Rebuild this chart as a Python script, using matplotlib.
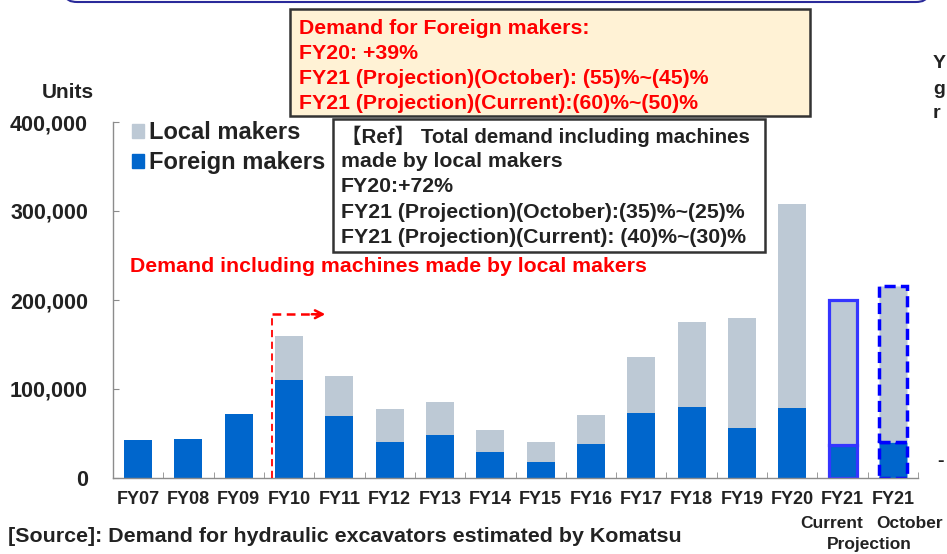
import matplotlib
matplotlib.use("Agg")
import matplotlib.pyplot as plt
from matplotlib.patches import Rectangle, FancyBboxPatch, Patch
import numpy as np

# ---------------- data ----------------
categories = ["FY07", "FY08", "FY09", "FY10", "FY11", "FY12", "FY13", "FY14",
              "FY15", "FY16", "FY17", "FY18", "FY19", "FY20", "FY21", "FY21"]
foreign_makers = [43000, 43500, 72000, 110000, 69500, 41000, 48500, 29000,
                  18500, 38000, 73000, 80000, 56500, 78500, 37000, 40000]
local_makers = [0, 0, 0, 49000, 45000, 36500, 36500, 25000,
                22000, 33000, 63000, 95000, 123000, 229000, 163000, 176000]
yticks = [0, 100000, 200000, 300000, 400000]
ytick_labels = ["0", "100,000", "200,000", "300,000", "400,000"]
arrow_level = 184000

red_box_lines = ["Demand for Foreign makers:",
                 "FY20: +39%",
                 "FY21 (Projection)(October): (55)%~(45)%",
                 "FY21 (Projection)(Current):(60)%~(50)%"]
ref_box_lines = ["【Ref】 Total demand including machines",
                 "made by local makers",
                 "FY20:+72%",
                 "FY21 (Projection)(October):(35)%~(25)%",
                 "FY21 (Projection)(Current): (40)%~(30)%"]

W, H = 947, 554
FONT = ["Liberation Sans", "Noto Sans CJK JP", "DejaVu Sans"]
plt.rcParams["font.family"] = FONT
plt.rcParams["font.weight"] = "bold"

DARK = "#222222"
RED = "#FF0000"
C_FOREIGN = "#0066CC"
C_LOCAL = "#BDC9D5"

fig = plt.figure(figsize=(W / 100, H / 100), dpi=100)
renderer = fig.canvas.get_renderer()


def fx(x):
    return x / W


def fy(y):
    return 1 - y / H


def fit(t, target):
    w = t.get_window_extent(renderer).width
    t.set_fontsize(t.get_fontsize() * target / w)
    return t.get_fontsize()


ax = fig.add_axes([fx(113), fy(478), (918 - 113) / W, (478 - 122) / H])
x = np.arange(len(categories))
bw = 0.557

styles = []
for i in range(len(categories)):
    if i == 14:
        styles.append(dict(edgecolor="#3535FF", linewidth=2.3, linestyle="-"))
    elif i == 15:
        styles.append(dict(edgecolor="#0000FF", linewidth=2.5, linestyle=(0, (3.2, 1.5))))
    else:
        styles.append(dict(edgecolor="none", linewidth=0))

for i in range(len(categories)):
    ax.bar(x[i], foreign_makers[i], width=bw, color=C_FOREIGN, zorder=2, **styles[i])
    if local_makers[i] > 0:
        ax.bar(x[i], local_makers[i], width=bw, bottom=foreign_makers[i],
               color=C_LOCAL, zorder=2, **styles[i])

ax.set_xlim(-0.5, len(categories) - 0.5)
ax.set_ylim(0, 400000)
for s in ["top", "right"]:
    ax.spines[s].set_visible(False)
for s in ["left", "bottom"]:
    ax.spines[s].set_color("#8C8C8C")
    ax.spines[s].set_linewidth(1.0)

ax.set_yticks(yticks)
ax.set_yticklabels(ytick_labels)
ax.tick_params(axis="y", direction="in", length=4, color="#8C8C8C", pad=18,
               labelsize=15.5, labelcolor=DARK)
ax.set_xticks(x)
ax.set_xticklabels(categories)
ax.tick_params(axis="x", which="major", length=0, pad=9, labelsize=13, labelcolor=DARK)
ax.set_xticks(np.arange(-0.5, len(categories), 1.0)[1:], minor=True)
ax.tick_params(axis="x", which="minor", direction="in", length=4.5, color="#8C8C8C")
for lab in ax.get_xticklabels() + ax.get_yticklabels():
    lab.set_fontweight("bold")

# dashed red arrow from FY10
xl = 3 - 0.34
ax.plot([xl, xl], [0, arrow_level], color=RED, lw=1.3, ls=(0, (4, 2.5)), zorder=3,
        clip_on=False)
ax.plot([xl, 3.62], [arrow_level, arrow_level], color=RED, lw=1.8, ls=(0, (3.5, 2.2)),
        zorder=3, clip_on=False)
ax.annotate("", xy=(3.72, arrow_level), xytext=(3.45, arrow_level),
            arrowprops=dict(arrowstyle="->,head_length=0.55,head_width=0.28",
                            color=RED, lw=1.8, shrinkA=0, shrinkB=0),
            zorder=3)

# legend
leg = ax.legend(handles=[Patch(color=C_LOCAL, label="Local makers"),
                         Patch(color=C_FOREIGN, label="Foreign makers")],
                loc="upper left", bbox_to_anchor=(fx(132), fy(121)),
                bbox_transform=fig.transFigure, frameon=False, borderpad=0,
                handlelength=0.52, handleheight=0.52, handletextpad=0.22,
                labelspacing=0.3, borderaxespad=0,
                prop=dict(family=FONT, weight="bold", size=17))
for t in leg.get_texts():
    t.set_color(DARK)

# y axis title
fig.text(fx(68), fy(92), "Units", ha="center", va="center", color=DARK,
         fontsize=15, fontweight="bold")

# top partial navy frame
fig.patches.append(FancyBboxPatch((fx(66), fy(2)), fx(927) - fx(66), 0.05,
                                  boxstyle="round,pad=0,rounding_size=0.012",
                                  transform=fig.transFigure, facecolor="white",
                                  edgecolor="#2A2A9A", linewidth=1.5))

# red annotation box
fig.patches.append(Rectangle((fx(290), fy(116)), fx(810) - fx(290), fy(9) - fy(116),
                             transform=fig.transFigure, facecolor="#FFF2D5",
                             edgecolor="#333333", linewidth=1.8, zorder=4))
red_ts = []
for k, line in enumerate(red_box_lines):
    red_ts.append(fig.text(fx(299), fy(29 + 24.8 * k), line, ha="left", va="center",
                           color=RED, fontsize=14, fontweight="bold", zorder=5))
sz = fit(red_ts[2], 410)
for t in red_ts:
    t.set_fontsize(sz)

# reference box
fig.patches.append(Rectangle((fx(333), fy(252)), fx(765) - fx(333), fy(119) - fy(252),
                             transform=fig.transFigure, facecolor="white",
                             edgecolor="#333333", linewidth=1.8, zorder=4))
ref_ts = []
for k, line in enumerate(ref_box_lines):
    ref_ts.append(fig.text(fx(341), fy(136 + 25.4 * k), line, ha="left", va="center",
                           color=DARK, fontsize=14, fontweight="bold", zorder=5))
sz = fit(ref_ts[3], 404)
for t in ref_ts[1:]:
    t.set_fontsize(sz)
ref_ts[0].set_fontsize(sz)
if ref_ts[0].get_window_extent(renderer).width > 410:
    fit(ref_ts[0], 410)

t = fig.text(fx(130), fy(267), "Demand including machines made by local makers",
             ha="left", va="center", color=RED, fontsize=14, fontweight="bold")
fit(t, 518)

# second-line labels for FY21 bars
fig.text(fx(832), fy(524), "Current", ha="center", va="center", color=DARK,
         fontsize=12.5, fontweight="bold")
fig.text(fx(910), fy(524), "October", ha="center", va="center", color=DARK,
         fontsize=12.5, fontweight="bold")
fig.text(fx(869), fy(544), "Projection", ha="center", va="center", color=DARK,
         fontsize=12.5, fontweight="bold")

# source
t = fig.text(fx(8), fy(537), "[Source]: Demand for hydraulic excavators estimated by Komatsu",
             ha="left", va="center", color=DARK, fontsize=14, fontweight="bold")
fit(t, 672)

# cropped neighbouring content at the right edge
for ch, yy in [("Y", 64), ("g", 89), ("r", 113)]:
    fig.text(fx(933), fy(yy), ch, ha="left", va="center", color=DARK,
             fontsize=14, fontweight="bold")
fig.text(fx(937), fy(462), "-", ha="left", va="center", color=DARK,
         fontsize=14, fontweight="bold")

fig.savefig("out.png", dpi=100)
